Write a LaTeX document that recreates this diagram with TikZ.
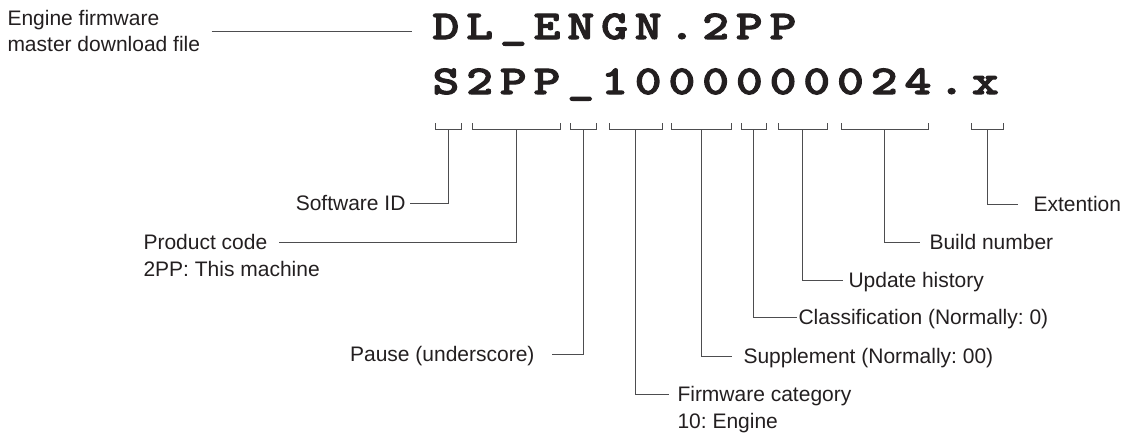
\documentclass[tikz,border=0pt]{standalone}
\usepackage{fontspec}
\setmainfont{Liberation Sans}
\newfontfamily\codefont{lmmonolt10-bold.otf}[FakeStretch=1.25,FakeBold=2.6,LetterSpace=16.6]
\usetikzlibrary{positioning}
\definecolor{ink}{HTML}{231F20}
\definecolor{wire}{HTML}{4D4D4F}
\newcommand{\fieldbrace}[3]{%
    \draw[brace] (#1,123) -- (#1,129) -- (#2,129) -- (#2,123);
    \coordinate (#3) at ({(#1+#2)/2},129);}
\frenchspacing

\begin{document}
\begin{tikzpicture}[
    x=1pt,
    y=-1pt,
    line width=1pt,
    note/.style={
        inner sep=0pt,
        text=ink,
        font=\fontsize{21}{26}\selectfont
    },
    field/.style={
        note,
        text height=15pt,
        text depth=1pt
    },
    code/.style={
        inner sep=0pt,
        anchor=base west,
        text=ink,
        font=\codefont\fontsize{41}{41}\selectfont
    },
    brace/.style={draw=wire},
    lead/.style={draw=wire}
]
    \useasboundingbox (0,0) rectangle (1129,437);

    \node[code] (dlname) at (432,39) {DL\_ENGN.2PP};
    \node[code] (fwname) at (432,94) {S2PP\_1000000024.x};

    \node[note, anchor=west, align=left] (master) at (7,31) {Engine firmware\\master download file};

    \node[field, anchor=base east] (swid) at (406,210) {Software ID};
    \node[field, anchor=base west] (pcode) at (143,249) {Product code};
    \node[field, below right=10pt and 0pt of pcode.south west] (pmach) {2PP: This machine};
    \node[field, anchor=base east] (pause) at (535,361) {Pause (underscore)};
    \node[field, anchor=base west] (fwcat) at (677,401) {Firmware category};
    \node[field, below right=10pt and 0pt of fwcat.south west] (fweng) {10: Engine};
    \node[field, anchor=base west] (supp) at (743,363) {Supplement (Normally: 00)};
    \node[field, anchor=base west] (cls) at (798,324) {Classification (Normally: 0)};
    \node[field, anchor=base west] (upd) at (848,287) {Update history};
    \node[field, anchor=base west] (build) at (929,249) {Build number};
    \node[field, anchor=base west] (ext) at (1033,211) {Extention};

    \fieldbrace{435}{461}{idpt}
    \fieldbrace{472}{560}{prodpt}
    \fieldbrace{570}{596}{seppt}
    \fieldbrace{609}{662}{catpt}
    \fieldbrace{671}{731}{supppt}
    \fieldbrace{741}{766}{classpt}
    \fieldbrace{778}{827}{histpt}
    \fieldbrace{841}{928}{buildpt}
    \fieldbrace{971}{1003}{extpt}

    \draw[lead, shorten <=11pt, shorten >=20pt] (master.east) -- (master.east -| dlname.west);
    \draw[lead, shorten >=4pt] (idpt) |- (swid.east);
    \draw[lead, shorten >=11pt] (prodpt) |- (pcode.east);
    \draw[lead, shorten >=17pt] (seppt) |- (pause.east);
    \draw[lead, shorten >=8pt] (catpt) |- (fwcat.west);
    \draw[lead, shorten >=11pt] (supppt) |- (supp.west);
    \draw[lead, shorten >=1pt] (classpt) |- (cls.west);
    \draw[lead, shorten >=5pt] (histpt) |- (upd.west);
    \draw[lead, shorten >=9pt] (buildpt) |- (build.west);
    \draw[lead, shorten >=15pt] (extpt) |- (ext.west);
\end{tikzpicture}
\end{document}
